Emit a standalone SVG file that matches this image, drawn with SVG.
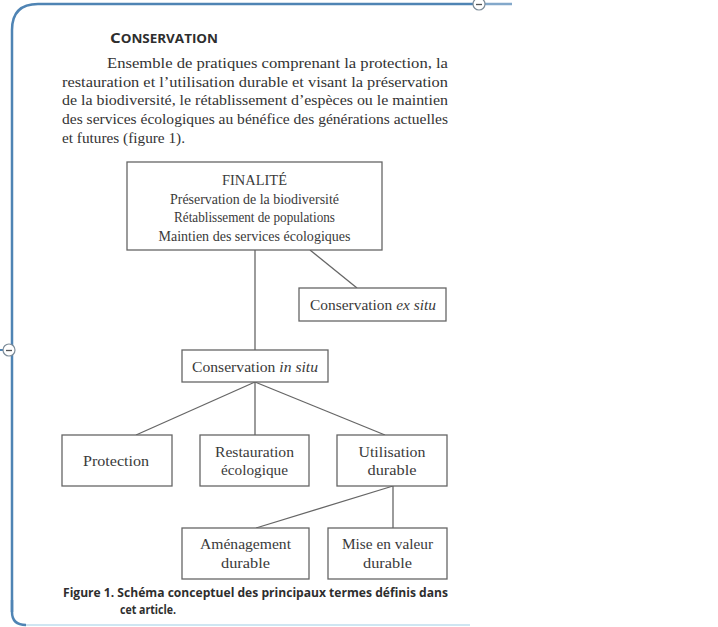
<svg xmlns="http://www.w3.org/2000/svg" width="718" height="627" viewBox="0 0 718 627">
<style>
.frame{fill:none;stroke:#4f84b4;stroke-width:2.5}
.knob{fill:#fff;stroke:#7d8c99;stroke-width:1.2}
.box{fill:#fff;stroke:#666;stroke-width:1.3}
.con{stroke:#666;stroke-width:1.3;fill:none}
.t{font-family:"Liberation Serif",serif;font-size:15.5px;fill:#3a3a3a;text-anchor:middle}
.p{font-family:"Liberation Serif",serif;font-size:15.5px;fill:#333}
.cap{font-family:"Open Sans","Liberation Sans",sans-serif;font-weight:bold;font-size:11.5px;fill:#2e2e2e}
</style>
<rect width="718" height="627" fill="#fff"/>
<g id="frame">
<path class="frame" d="M12 612 L12 30 Q12 4 38 4 L473 4"/>
<path d="M485 4 L512 4" stroke="#4f84b4" stroke-width="2.5" opacity="0.7"/>
<path class="frame" d="M12 600 L12 612 Q12 625 26 625"/>
<path d="M26 625 L470 625" stroke="#cfe6f2" stroke-width="2"/>
<path d="M0 350 L3 350" stroke="#4f84b4" stroke-width="2"/>
<circle class="knob" cx="479" cy="4" r="6"/>
<line x1="476" y1="4.5" x2="482" y2="4.5" stroke="#555" stroke-width="1.3"/>
<circle class="knob" cx="9" cy="350" r="6"/>
<line x1="6" y1="350.5" x2="12" y2="350.5" stroke="#555" stroke-width="1.3"/>
</g>
<g id="header">
<text x="110" y="43" font-family="Open Sans,Liberation Sans,sans-serif" font-weight="bold" fill="#2e2e2e" textLength="108" lengthAdjust="spacingAndGlyphs"><tspan font-size="15">C</tspan><tspan font-size="12">ONSERVATION</tspan></text>
<text class="p" x="107" y="68" textLength="341" lengthAdjust="spacingAndGlyphs">Ensemble de pratiques comprenant la protection, la</text>
<text class="p" x="62" y="87" textLength="386" lengthAdjust="spacingAndGlyphs">restauration et l’utilisation durable et visant la préservation</text>
<text class="p" x="62" y="105" textLength="386" lengthAdjust="spacingAndGlyphs">de la biodiversité, le rétablissement d’espèces ou le maintien</text>
<text class="p" x="62" y="124" textLength="386" lengthAdjust="spacingAndGlyphs">des services écologiques au bénéfice des générations actuelles</text>
<text class="p" x="62" y="143" textLength="123" lengthAdjust="spacingAndGlyphs">et futures (figure 1).</text>
</g>
<g id="connectors">
<line class="con" x1="255" y1="250" x2="255" y2="350"/>
<line class="con" x1="310" y1="250" x2="357" y2="288"/>
<line class="con" x1="255" y1="382" x2="136" y2="435"/>
<line class="con" x1="255" y1="382" x2="255" y2="435"/>
<line class="con" x1="255" y1="382" x2="385" y2="435"/>
<line class="con" x1="393" y1="486" x2="256" y2="528"/>
<line class="con" x1="393" y1="486" x2="393" y2="528"/>
</g>
<g id="finalite">
<rect class="box" x="127" y="162" width="255" height="88"/>
<text class="t" x="254.5" y="185" textLength="65" lengthAdjust="spacingAndGlyphs">FINALITÉ</text>
<text class="t" x="254.5" y="204" textLength="169" lengthAdjust="spacingAndGlyphs">Préservation de la biodiversité</text>
<text class="t" x="254.5" y="222" textLength="161" lengthAdjust="spacingAndGlyphs">Rétablissement de populations</text>
<text class="t" x="254.5" y="241" textLength="192" lengthAdjust="spacingAndGlyphs">Maintien des services écologiques</text>
</g>
<g id="exsitu">
<rect class="box" x="299" y="288" width="147" height="33"/>
<text class="t" x="373" y="310" textLength="126" lengthAdjust="spacingAndGlyphs">Conservation <tspan font-style="italic">ex situ</tspan></text>
</g>
<g id="insitu">
<rect class="box" x="182" y="350" width="146" height="32"/>
<text class="t" x="255" y="372" textLength="126" lengthAdjust="spacingAndGlyphs">Conservation <tspan font-style="italic">in situ</tspan></text>
</g>
<g id="protection">
<rect class="box" x="62" y="435" width="110" height="51"/>
<text class="t" x="116" y="466" textLength="66" lengthAdjust="spacingAndGlyphs">Protection</text>
</g>
<g id="restauration">
<rect class="box" x="200" y="435" width="109" height="51"/>
<text class="t" x="254.5" y="457" textLength="79" lengthAdjust="spacingAndGlyphs">Restauration</text>
<text class="t" x="254.5" y="475" textLength="67" lengthAdjust="spacingAndGlyphs">écologique</text>
</g>
<g id="utilisation">
<rect class="box" x="337" y="435" width="110" height="51"/>
<text class="t" x="392" y="457" textLength="67" lengthAdjust="spacingAndGlyphs">Utilisation</text>
<text class="t" x="392" y="475" textLength="49" lengthAdjust="spacingAndGlyphs">durable</text>
</g>
<g id="amenagement">
<rect class="box" x="182" y="528" width="127" height="51"/>
<text class="t" x="245.5" y="549" textLength="91" lengthAdjust="spacingAndGlyphs">Aménagement</text>
<text class="t" x="245.5" y="568" textLength="49" lengthAdjust="spacingAndGlyphs">durable</text>
</g>
<g id="miseenvaleur">
<rect class="box" x="328" y="528" width="119" height="51"/>
<text class="t" x="387.5" y="549" textLength="91" lengthAdjust="spacingAndGlyphs">Mise en valeur</text>
<text class="t" x="387.5" y="568" textLength="49" lengthAdjust="spacingAndGlyphs">durable</text>
</g>
<g id="caption">
<text class="cap" x="63" y="597" textLength="385" lengthAdjust="spacingAndGlyphs">Figure 1. Schéma conceptuel des principaux termes définis dans</text>
<text class="cap" x="120" y="614" textLength="56" lengthAdjust="spacingAndGlyphs">cet article.</text>
</g>
</svg>
